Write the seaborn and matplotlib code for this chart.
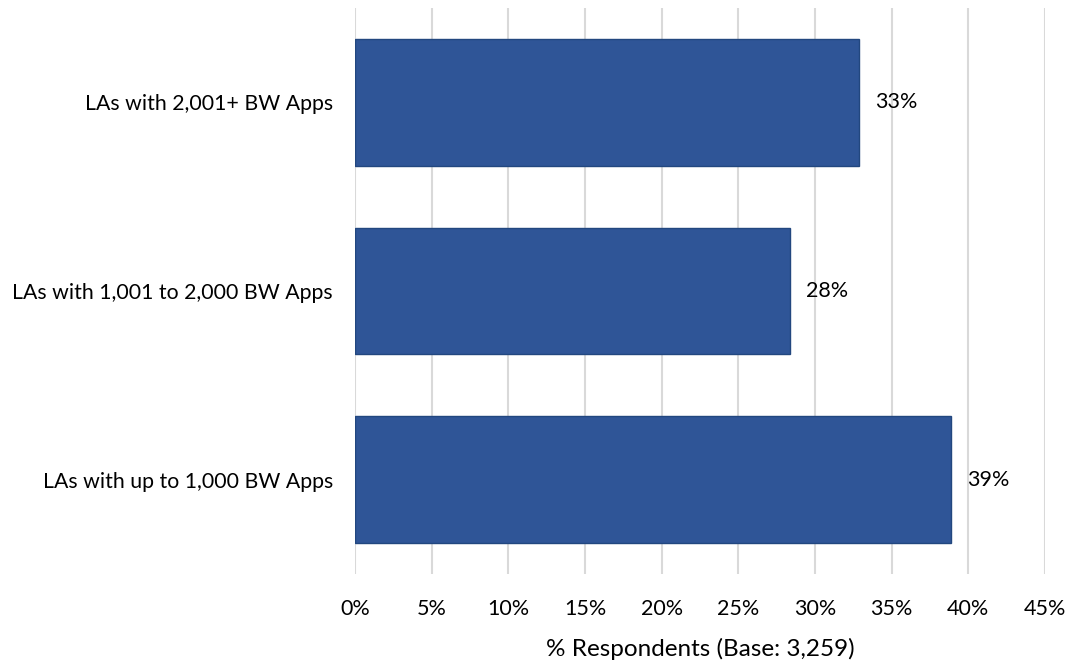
import matplotlib
matplotlib.use("Agg")
import matplotlib.pyplot as plt
import seaborn as sns
import pandas as pd

# Survey results: share of respondents by local-authority size band
categories = ["LAs with 2,001+ BW Apps",
              "LAs with 1,001 to 2,000 BW Apps",
              "LAs with up to 1,000 BW Apps"]
shares = [32.9, 28.4, 38.9]
x_ticks = [0, 5, 10, 15, 20, 25, 30, 35, 40, 45]
x_label = "% Respondents (Base: 3,259)"

df = pd.DataFrame({"category": categories, "share": shares})

sns.set_theme(style="white")
plt.rcParams["font.family"] = ["Lato", "DejaVu Sans"]

W, H = 1071, 664
fig = plt.figure(figsize=(W / 100, H / 100), dpi=100)
ax = fig.add_axes([355 / W, 1 - 574 / H, 690 / W, 566 / H])

sns.barplot(data=df, x="share", y="category", order=categories,
            color="#2F5597", saturation=1, width=0.673,
            edgecolor="#22477F", linewidth=1.0, ax=ax, zorder=3)

ax.set_xlim(0, 45)
ax.set_ylim(2.5, -0.5)
ax.set_xticks(x_ticks)
ax.set_xticklabels([f"{t}%" for t in x_ticks], fontsize=15.5, color="#000000")
ax.tick_params(axis="x", length=0, pad=18)
ax.tick_params(axis="y", length=0, pad=16, labelsize=15.3, labelcolor="#000000")

ax.grid(axis="x", color="#D9D9D9", linewidth=1.5, zorder=0)
ax.grid(axis="y", visible=False)
for s in ax.spines.values():
    s.set_visible(False)

ax.set_ylabel("")
ax.set_xlabel(x_label, fontsize=17.5, color="#000000", labelpad=13.5)

for i, v in enumerate(shares):
    ax.annotate(f"{v:.0f}%", xy=(v, i), xytext=(11, 0),
                textcoords="offset points", va="center", ha="left",
                fontsize=15.5, color="#000000", zorder=4)

fig.savefig("out.png", dpi=100, facecolor="white")
